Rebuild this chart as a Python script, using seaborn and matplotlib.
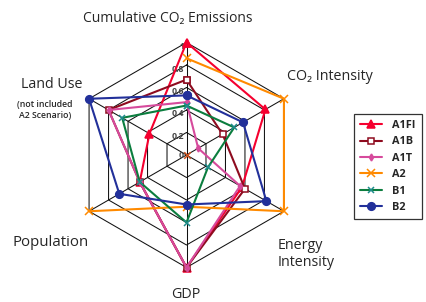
import numpy as np
import pandas as pd
import matplotlib
matplotlib.use("Agg")
import matplotlib.pyplot as plt
import seaborn as sns

# ---- data -------------------------------------------------------------
axes_labels = ["Cumulative CO\u2082 Emissions", "CO\u2082 Intensity", "Energy Intensity",
               "GDP", "Population", "Land Use"]
scenarios = ["A1FI", "A1B", "A1T", "A2", "B1", "B2"]
A1FI = [1.00, 0.81, 0.57, 1.00, 0.48, 0.38]
A1B = [0.67, 0.37, 0.60, 1.00, 0.48, 0.80]
A1T = [0.47, 0.12, 0.55, 1.00, 0.48, 0.80]
A2 = [0.86, 1.00, 1.00, 0.46, 1.00, np.nan]   # land use not included
B1 = [0.44, 0.49, 0.22, 0.60, 0.48, 0.66]
B2 = [0.53, 0.58, 0.82, 0.44, 0.69, 1.00]
ring_levels = [0.2, 0.4, 0.6, 0.8, 1.0]
ring_labels = ["0.2", "0.4", "0.6", "0.8", "1"]
values = dict(A1FI=A1FI, A1B=A1B, A1T=A1T, A2=A2, B1=B1, B2=B2)

colors = {"A1FI": "#F5002F", "A1B": "#8E0B1F", "A1T": "#D64A9C",
          "A2": "#FF8A00", "B1": "#0B7D3E", "B2": "#22309A"}
marker_col = {"B1": "#1F8C8C"}
markers = {"A1FI": "^", "A1B": "s", "A1T": "d", "A2": "x", "B1": "x", "B2": "o"}
msizes = {"A1FI": 5.5, "A1B": 3.8, "A1T": 3.5, "A2": 6, "B1": 5, "B2": 5.5}

# ---- geometry ---------------------------------------------------------
W, H = 427, 302
CX, CY, R = 186.5, 155.0, 112.5
n = len(axes_labels)
theta = np.arange(n) * 2 * np.pi / n


def px(x, y):
    """pixel (from top-left) -> data coords"""
    return (x - CX) / R, (CY - y) / R


sns.set_theme(style="white")
plt.rcParams["font.family"] = ["Open Sans", "DejaVu Sans"]

fig = plt.figure(figsize=(W / 100, H / 100), dpi=100)
ax = fig.add_axes([0, 0, 1, 1])
x0, y0 = px(0, H)
x1, y1 = px(W, 0)
ax.set_xlim(x0, x1)
ax.set_ylim(y0, y1)
ax.axis("off")

# grid rings and spokes
for r in ring_levels:
    t = np.append(theta, theta[0])
    ax.plot(r * np.sin(t), r * np.cos(t), color="#111111", lw=0.75, zorder=1)
for t in theta:
    ax.plot([0, np.sin(t)], [0, np.cos(t)], color="#111111", lw=0.75, zorder=1)

# series
for s in scenarios:
    v = np.array(values[s], dtype=float)
    idx = [i for i in range(n) if not np.isnan(v[i])]
    if len(idx) == n:
        idx = idx + [idx[0]]
    df = pd.DataFrame({"x": v[idx] * np.sin(theta[idx]),
                       "y": v[idx] * np.cos(theta[idx])})
    mc = marker_col.get(s, colors[s])
    mfc = "white" if s == "A1B" else mc
    sns.lineplot(data=df, x="x", y="y", sort=False, estimator=None, ax=ax,
                 color=colors[s], lw=1.5, marker=markers[s], markersize=msizes[s],
                 markeredgecolor=mc, markerfacecolor=mfc, markeredgewidth=1.1,
                 label=s, zorder=3)

# A2 land use marker at centre
sns.scatterplot(x=[0], y=[0], marker="x", color="#C8501E", s=22, linewidth=1.1,
                ax=ax, zorder=4, legend=False)

# ring labels
for r, lab in zip(ring_levels, ring_labels):
    lx, ly = px(CX - 2, CY - r * R + 4)
    ax.text(lx, ly, lab, ha="right", va="center", fontsize=6.3, color="#444444",
            fontweight="bold", zorder=2)
lx, ly = px(CX - 3, CY + 1)
ax.text(lx, ly, "0", ha="right", va="center", fontsize=6.3, color="#444444",
        fontweight="bold", zorder=2)

# axis labels
fs = 10.3
ax.text(*px(168, 18), axes_labels[0], ha="center", va="center", fontsize=10.0)
ax.text(*px(287, 77), axes_labels[1], ha="left", va="center", fontsize=fs)
ax.text(*px(278, 254), "Energy\nIntensity", ha="left", va="center", fontsize=fs,
        linespacing=1.15)
ax.text(*px(186, 294), axes_labels[3], ha="center", va="center", fontsize=fs)
ax.text(*px(12, 243), axes_labels[4], ha="left", va="center", fontsize=10.8)
ax.text(*px(52, 85), axes_labels[5], ha="center", va="center", fontsize=fs)
ax.text(*px(45, 110), "(not included\nA2 Scenario)", ha="center", va="center",
        fontsize=6.3, fontweight="semibold", linespacing=1.25)

# legend
handles, labels = ax.get_legend_handles_labels()
leg = ax.legend(handles, labels, loc="upper left",
                bbox_to_anchor=(354 / W, 1 - 114 / H), bbox_transform=fig.transFigure,
                frameon=True, fancybox=False, edgecolor="black", borderaxespad=0,
                prop={"size": 7.8, "weight": "bold"}, handlelength=2.0,
                labelspacing=0.5, borderpad=0.55, handletextpad=1.0)
leg.get_frame().set_linewidth(0.9)

fig.savefig("out.png", dpi=100)
